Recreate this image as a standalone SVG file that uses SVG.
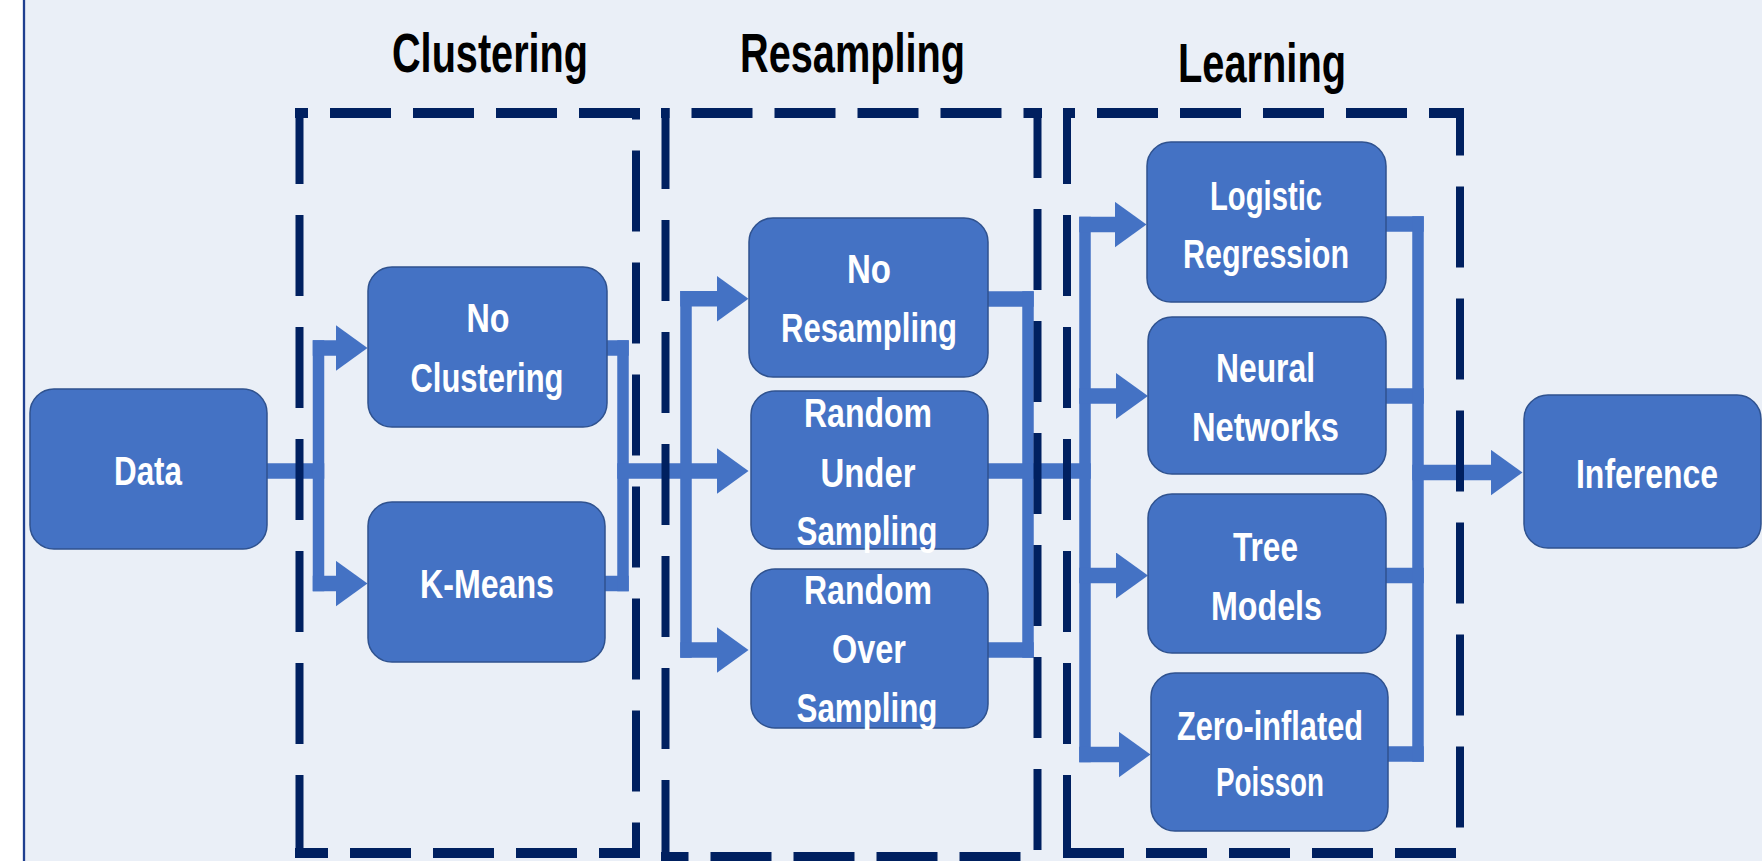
<svg xmlns="http://www.w3.org/2000/svg" width="1762" height="861" viewBox="0 0 1762 861">
<style>
.node rect{fill:#4472C4;stroke:#2F528F;stroke-width:1.5}
.node text,.title{font-family:"Liberation Sans",Arial,sans-serif;font-weight:bold;text-anchor:middle}
.node text{font-size:40px;fill:#FFFFFF}
.title{font-size:56px;fill:#000000}
.ch{fill:none;stroke:#4472C4;stroke-width:15.5}
.cv{fill:none;stroke:#4472C4;stroke-width:11.5}
.dh{stroke:#002060;stroke-width:10;stroke-dasharray:61 22}
.dv{stroke:#002060;stroke-width:8;stroke-dasharray:81 31}
</style>
<defs>
<marker id="ah" markerUnits="userSpaceOnUse" markerWidth="33" markerHeight="46" viewBox="0 0 33 46" refX="0.5" refY="23" orient="auto">
<path d="M0,0 L32,23 L0,46 Z" fill="#4472C4"/>
</marker>
</defs>
<rect x="0" y="0" width="1762" height="861" fill="#FFFFFF"/>
<rect x="24" y="0" width="1738" height="861" fill="#EAEFF7"/>
<line x1="24" y1="0" x2="24" y2="861" stroke="#1F3F8F" stroke-width="2.3"/>

<g id="titles">
<text class="title" x="490" y="72" textLength="196" lengthAdjust="spacingAndGlyphs">Clustering</text>
<text class="title" x="852.5" y="72" textLength="225" lengthAdjust="spacingAndGlyphs">Resampling</text>
<text class="title" x="1262" y="82" textLength="168" lengthAdjust="spacingAndGlyphs">Learning</text>
</g>

<g id="connectors">
<path class="ch" d="M267,471 H324.25"/>
<path class="cv" d="M318.5,340.25 V591.25"/>
<path class="ch" d="M312.75,348 H336" marker-end="url(#ah)"/>
<path class="ch" d="M312.75,583.5 H336" marker-end="url(#ah)"/>

<path class="ch" d="M607,348 H628.75"/>
<path class="ch" d="M605,583.5 H628.75"/>
<path class="cv" d="M623,340.25 V591.25"/>
<path class="ch" d="M617.25,471 H717" marker-end="url(#ah)"/>
<path class="cv" d="M686,291 V657.75"/>
<path class="ch" d="M680.25,298.75 H717" marker-end="url(#ah)"/>
<path class="ch" d="M680.25,650 H717" marker-end="url(#ah)"/>

<path class="ch" d="M988,299 H1033.75"/>
<path class="ch" d="M988,650 H1033.75"/>
<path class="cv" d="M1028,291.25 V657.75"/>
<path class="ch" d="M988,471 H1090.75"/>
<path class="cv" d="M1085,216.75 V762.25"/>
<path class="ch" d="M1079.25,224.5 H1115" marker-end="url(#ah)"/>
<path class="ch" d="M1079.25,396 H1116.5" marker-end="url(#ah)"/>
<path class="ch" d="M1079.25,575.5 H1116.5" marker-end="url(#ah)"/>
<path class="ch" d="M1079.25,754.5 H1119" marker-end="url(#ah)"/>

<path class="ch" d="M1386,224 H1423.75"/>
<path class="ch" d="M1386,396 H1423.75"/>
<path class="ch" d="M1386,575.5 H1423.75"/>
<path class="ch" d="M1388,754 H1423.75"/>
<path class="cv" d="M1418,216.25 V761.75"/>
<path class="ch" d="M1412.25,472.5 H1491" marker-end="url(#ah)"/>
</g>

<g id="n-data" class="node">
<rect x="30" y="389" width="237" height="160" rx="24" ry="24"/>
<text x="148" y="485" textLength="68" lengthAdjust="spacingAndGlyphs">Data</text>
</g>
<g id="n-noclustering" class="node">
<rect x="368" y="267" width="239" height="160" rx="24" ry="24"/>
<text x="488" y="332" textLength="43" lengthAdjust="spacingAndGlyphs">No</text>
<text x="487" y="392" textLength="153" lengthAdjust="spacingAndGlyphs">Clustering</text>
</g>
<g id="n-kmeans" class="node">
<rect x="368" y="502" width="237" height="160" rx="24" ry="24"/>
<text x="487" y="598" textLength="134" lengthAdjust="spacingAndGlyphs">K-Means</text>
</g>
<g id="n-noresampling" class="node">
<rect x="749" y="218" width="239" height="159" rx="24" ry="24"/>
<text x="869" y="283" textLength="44" lengthAdjust="spacingAndGlyphs">No</text>
<text x="869" y="342" textLength="176" lengthAdjust="spacingAndGlyphs">Resampling</text>
</g>
<g id="n-randomunder" class="node">
<rect x="751" y="391" width="237" height="158" rx="24" ry="24"/>
<text x="868" y="427" textLength="128" lengthAdjust="spacingAndGlyphs">Random</text>
<text x="868" y="487" textLength="95" lengthAdjust="spacingAndGlyphs">Under</text>
<text x="867" y="545" textLength="141" lengthAdjust="spacingAndGlyphs">Sampling</text>
</g>
<g id="n-randomover" class="node">
<rect x="751" y="569" width="237" height="159" rx="24" ry="24"/>
<text x="868" y="604" textLength="128" lengthAdjust="spacingAndGlyphs">Random</text>
<text x="869" y="663" textLength="74" lengthAdjust="spacingAndGlyphs">Over</text>
<text x="867" y="722" textLength="141" lengthAdjust="spacingAndGlyphs">Sampling</text>
</g>
<g id="n-logistic" class="node">
<rect x="1147" y="142" width="239" height="160" rx="24" ry="24"/>
<text x="1266" y="210" textLength="112" lengthAdjust="spacingAndGlyphs">Logistic</text>
<text x="1266" y="268" textLength="166" lengthAdjust="spacingAndGlyphs">Regression</text>
</g>
<g id="n-neural" class="node">
<rect x="1148" y="317" width="238" height="157" rx="24" ry="24"/>
<text x="1265.5" y="382" textLength="99" lengthAdjust="spacingAndGlyphs">Neural</text>
<text x="1265.5" y="441" textLength="147" lengthAdjust="spacingAndGlyphs">Networks</text>
</g>
<g id="n-tree" class="node">
<rect x="1148" y="494" width="238" height="159" rx="24" ry="24"/>
<text x="1265.5" y="561" textLength="65" lengthAdjust="spacingAndGlyphs">Tree</text>
<text x="1266.5" y="620" textLength="111" lengthAdjust="spacingAndGlyphs">Models</text>
</g>
<g id="n-zip" class="node">
<rect x="1151" y="673" width="237" height="158" rx="24" ry="24"/>
<text x="1270" y="740" textLength="186" lengthAdjust="spacingAndGlyphs">Zero-inflated</text>
<text x="1270" y="796" textLength="108" lengthAdjust="spacingAndGlyphs">Poisson</text>
</g>
<g id="n-inference" class="node">
<rect x="1524" y="395" width="237" height="153" rx="24" ry="24"/>
<text x="1647" y="488" textLength="142" lengthAdjust="spacingAndGlyphs">Inference</text>
</g>

<g id="box-clustering">
<line class="dh" x1="295" y1="113" x2="640" y2="113" stroke-dashoffset="48"/>
<line class="dh" x1="295" y1="853" x2="640" y2="853" stroke-dashoffset="28"/>
<line class="dv" x1="299.5" y1="108" x2="299.5" y2="858" stroke-dashoffset="5"/>
<line class="dv" x1="636" y1="108" x2="636" y2="858" stroke-dashoffset="69.5"/>
</g>
<g id="box-resampling">
<line class="dh" x1="661" y1="113" x2="1042" y2="113" stroke-dashoffset="52.5"/>
<line class="dh" x1="661" y1="857" x2="1042" y2="857" stroke-dashoffset="33.5"/>
<line class="dv" x1="665.5" y1="108" x2="665.5" y2="862" stroke-dashoffset="0"/>
<line class="dv" x1="1037.5" y1="108" x2="1037.5" y2="862" stroke-dashoffset="11"/>
</g>
<g id="box-learning">
<line class="dh" x1="1063" y1="113" x2="1464" y2="113" stroke-dashoffset="49"/>
<line class="dh" x1="1063" y1="853" x2="1464" y2="853" stroke-dashoffset="0"/>
<line class="dv" x1="1067" y1="108" x2="1067" y2="858" stroke-dashoffset="5"/>
<line class="dv" x1="1460" y1="108" x2="1460" y2="840" stroke-dashoffset="33.5"/>
</g>
</svg>
